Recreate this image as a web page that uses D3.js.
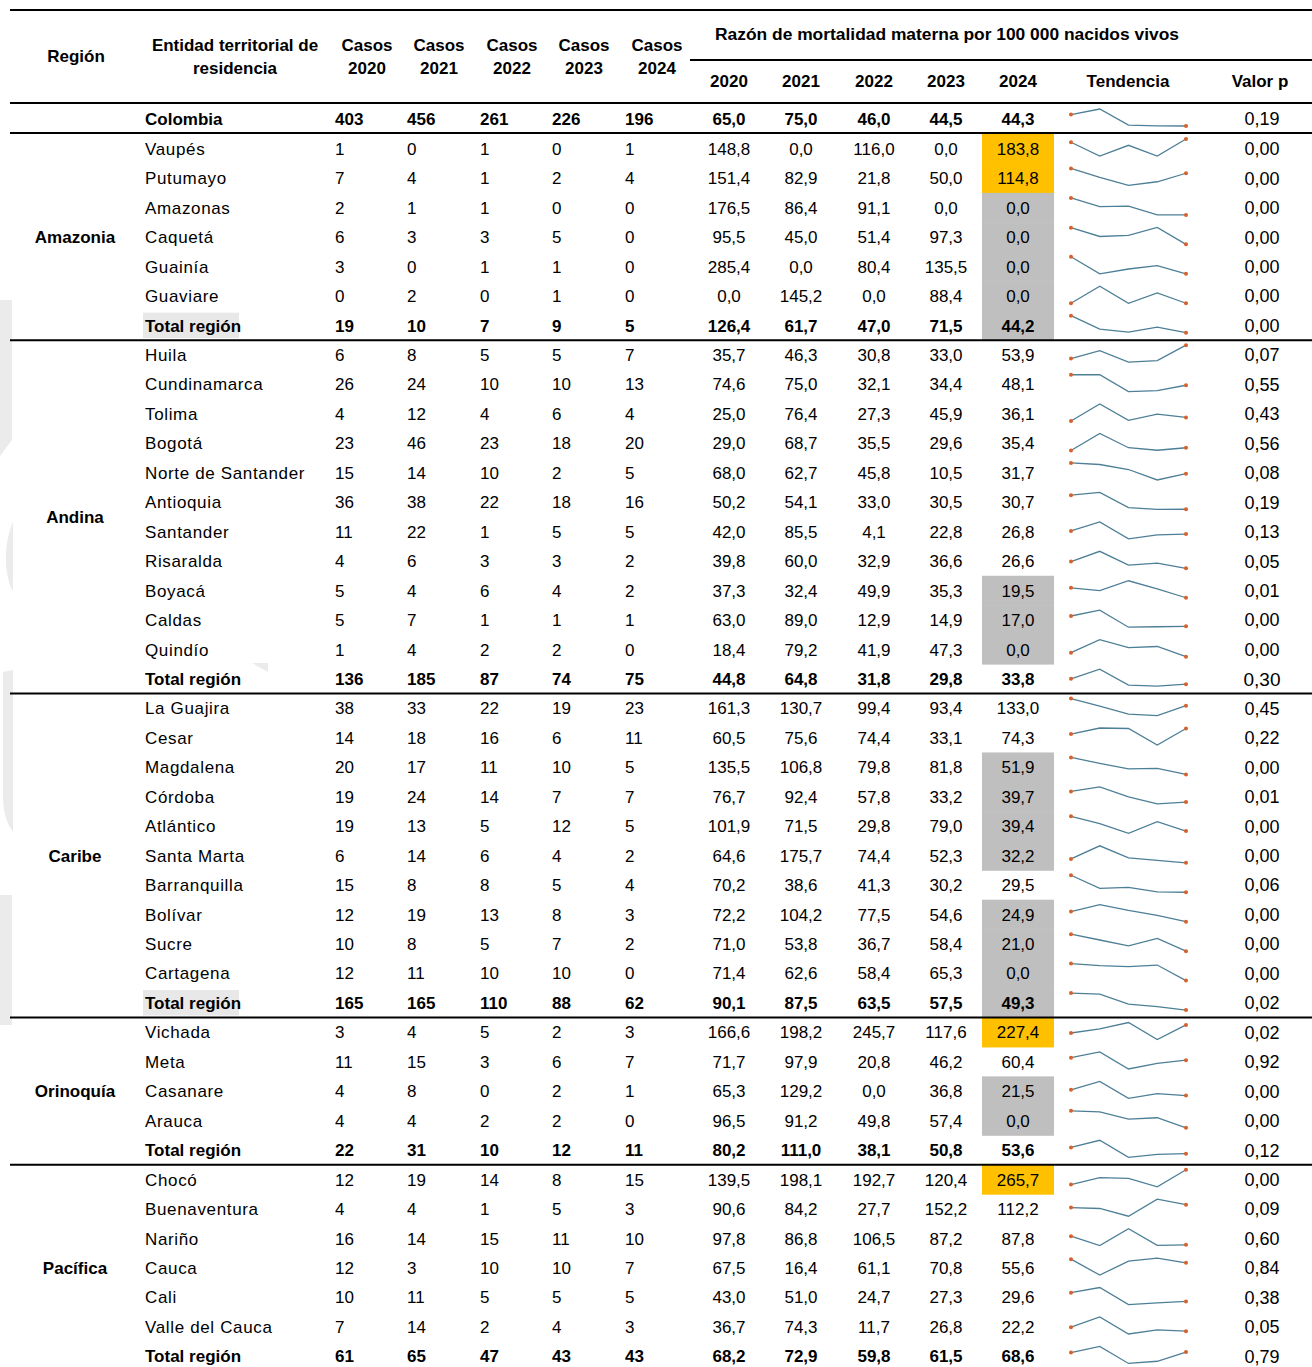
<!DOCTYPE html>
<meta charset="utf-8">
<style>
body { margin: 0; background: #fff; }
svg { display: block; font-family: "Liberation Sans", Arial, sans-serif; }
.b { font-weight: bold; }
</style>
<svg width="1312" height="1367"></svg>
<script src="https://cdn.jsdelivr.net/npm/d3@7"></script>
<script>

var anios = [2020, 2021, 2022, 2023, 2024];
var regiones = ["Amazonia", "Andina", "Caribe", "Orinoquía", "Pacífica"];
var filasPorRegion = [7, 12, 11, 5, 7];

var entidades = ["Colombia",
  "Vaupés", "Putumayo", "Amazonas", "Caquetá", "Guainía", "Guaviare", "Total región",
  "Huila", "Cundinamarca", "Tolima", "Bogotá", "Norte de Santander", "Antioquia", "Santander", "Risaralda", "Boyacá", "Caldas", "Quindío", "Total región",
  "La Guajira", "Cesar", "Magdalena", "Córdoba", "Atlántico", "Santa Marta", "Barranquilla", "Bolívar", "Sucre", "Cartagena", "Total región",
  "Vichada", "Meta", "Casanare", "Arauca", "Total región",
  "Chocó", "Buenaventura", "Nariño", "Cauca", "Cali", "Valle del Cauca", "Total región"];

var casos2020 = [403, 1,7,2,6,3,0,19, 6,26,4,23,15,36,11,4,5,5,1,136, 38,14,20,19,19,6,15,12,10,12,165, 3,11,4,4,22, 12,4,16,12,10,7,61];
var casos2021 = [456, 0,4,1,3,0,2,10, 8,24,12,46,14,38,22,6,4,7,4,185, 33,18,17,24,13,14,8,19,8,11,165, 4,15,8,4,31, 19,4,14,3,11,14,65];
var casos2022 = [261, 1,1,1,3,1,0,7, 5,10,4,23,10,22,1,3,6,1,2,87, 22,16,11,14,5,6,8,13,5,10,110, 5,3,0,2,10, 14,1,15,10,5,2,47];
var casos2023 = [226, 0,2,0,5,1,1,9, 5,10,6,18,2,18,5,3,4,1,2,74, 19,6,10,7,12,4,5,8,7,10,88, 2,6,2,2,12, 8,5,11,10,5,4,43];
var casos2024 = [196, 1,4,0,0,0,0,5, 7,13,4,20,5,16,5,2,2,1,0,75, 23,11,5,7,5,2,4,3,2,0,62, 3,7,1,0,11, 15,3,10,7,5,3,43];

var rmm2020 = [65.0, 148.8,151.4,176.5,95.5,285.4,0.0,126.4, 35.7,74.6,25.0,29.0,68.0,50.2,42.0,39.8,37.3,63.0,18.4,44.8, 161.3,60.5,135.5,76.7,101.9,64.6,70.2,72.2,71.0,71.4,90.1, 166.6,71.7,65.3,96.5,80.2, 139.5,90.6,97.8,67.5,43.0,36.7,68.2];
var rmm2021 = [75.0, 0.0,82.9,86.4,45.0,0.0,145.2,61.7, 46.3,75.0,76.4,68.7,62.7,54.1,85.5,60.0,32.4,89.0,79.2,64.8, 130.7,75.6,106.8,92.4,71.5,175.7,38.6,104.2,53.8,62.6,87.5, 198.2,97.9,129.2,91.2,111.0, 198.1,84.2,86.8,16.4,51.0,74.3,72.9];
var rmm2022 = [46.0, 116.0,21.8,91.1,51.4,80.4,0.0,47.0, 30.8,32.1,27.3,35.5,45.8,33.0,4.1,32.9,49.9,12.9,41.9,31.8, 99.4,74.4,79.8,57.8,29.8,74.4,41.3,77.5,36.7,58.4,63.5, 245.7,20.8,0.0,49.8,38.1, 192.7,27.7,106.5,61.1,24.7,11.7,59.8];
var rmm2023 = [44.5, 0.0,50.0,0.0,97.3,135.5,88.4,71.5, 33.0,34.4,45.9,29.6,10.5,30.5,22.8,36.6,35.3,14.9,47.3,29.8, 93.4,33.1,81.8,33.2,79.0,52.3,30.2,54.6,58.4,65.3,57.5, 117.6,46.2,36.8,57.4,50.8, 120.4,152.2,87.2,70.8,27.3,26.8,61.5];
var rmm2024 = [44.3, 183.8,114.8,0.0,0.0,0.0,0.0,44.2, 53.9,48.1,36.1,35.4,31.7,30.7,26.8,26.6,19.5,17.0,0.0,33.8, 133.0,74.3,51.9,39.7,39.4,32.2,29.5,24.9,21.0,0.0,49.3, 227.4,60.4,21.5,0.0,53.6, 265.7,112.2,87.8,55.6,29.6,22.2,68.6];

var valorP = ["0,19", "0,00","0,00","0,00","0,00","0,00","0,00","0,00",
  "0,07","0,55","0,43","0,56","0,08","0,19","0,13","0,05","0,01","0,00","0,00","0,30",
  "0,45","0,22","0,00","0,01","0,00","0,00","0,06","0,00","0,00","0,00","0,02",
  "0,02","0,92","0,00","0,00","0,12",
  "0,00","0,09","0,60","0,84","0,38","0,05","0,79"];

// "a" = naranja, "g" = gris
var destacado2024 = ["",
  "a","a","g","g","g","g","g",
  "","","","","","","","","g","g","g","",
  "","","g","g","g","g","","g","g","g","g",
  "a","","g","g","",
  "a","","","","","",""];

var svg = d3.select("svg"),
    width = +svg.attr("width");

var fmt = function(v) { return d3.format(".1f")(v).replace(".", ","); };
var casos = [casos2020, casos2021, casos2022, casos2023, casos2024];
var rmm = [rmm2020, rmm2021, rmm2022, rmm2023, rmm2024];

var left = 10,
    firstTop = 134,
    rowH = 29.45,
    fs = 17;

var casosX = [335, 407, 480, 552, 625];
var rmmX = [729, 801, 874, 946, 1018];
var pX = 1262;

// bits of a faint watermark showing in the left margin
var deco = svg.append("g").attr("fill", "#ebebeb");
deco.append("path").attr("d", "M0,300 L12,300 L12,440 L0,456 Z");
deco.append("path").attr("d", "M13,522 C5,540 2,570 13,592 Z");
deco.append("path").attr("d", "M13,670 L3,672 L3,800 Q4,820 13,832 Z");
deco.append("path").attr("d", "M0,895 L12,895 L12,1025 L0,1025 Z");
deco.append("path").attr("d", "M252,663 L268,663 L268,672 Z");

// row positions
var rowTop = function(i) { return i === 0 ? 104 : firstTop + (i - 1) * rowH; };
var rowMid = function(i) { return i === 0 ? 119 : rowTop(i) + rowH / 2; };

// highlighted 2024 cells
svg.append("g").selectAll("rect")
  .data(destacado2024.map(function(d, i) { return { c: d, i: i }; }).filter(function(d) { return d.c; }))
  .enter().append("rect")
  .attr("x", 982).attr("width", 72)
  .attr("y", function(d) { return rowTop(d.i); })
  .attr("height", rowH + 0.5)
  .attr("fill", function(d) { return d.c === "a" ? "#ffc000" : "#bfbfbf"; });

// light box behind a couple of "Total región" labels
[7, 30].forEach(function(i) {
  svg.append("rect").attr("x", 143).attr("y", rowTop(i) + 2).attr("width", 96).attr("height", rowH - 4)
    .attr("fill", "#e8e8e8");
});

// header
var head = svg.append("g").attr("class", "b").attr("font-size", fs).attr("text-anchor", "middle").attr("fill", "#000");
head.append("text").attr("x", 76).attr("y", 62).text("Región");
head.append("text").attr("x", 235).attr("y", 51).text("Entidad territorial de");
head.append("text").attr("x", 235).attr("y", 74).text("residencia");
anios.forEach(function(a, k) {
  head.append("text").attr("x", casosX[k] + 32).attr("y", 51).text("Casos");
  head.append("text").attr("x", casosX[k] + 32).attr("y", 74).text(a);
  head.append("text").attr("x", rmmX[k]).attr("y", 87).text(a);
});
head.append("text").attr("x", 947).attr("y", 40).attr("font-size", 17.4)
  .text("Razón de mortalidad materna por 100 000 nacidos vivos");
head.append("text").attr("x", 1128).attr("y", 87).text("Tendencia");
head.append("text").attr("x", 1260).attr("y", 87).text("Valor p");

// body rows
var rows = svg.append("g").attr("font-size", fs).attr("fill", "#000");
entidades.forEach(function(e, i) {
  var bold = i === 0 || e === "Total región";
  var g = rows.append("g").attr("class", bold ? "b" : null)
    .attr("transform", "translate(0," + rowMid(i) + ")");
  g.append("text").attr("x", 145).attr("dy", "0.36em")
    .attr("letter-spacing", bold ? null : 0.65)
    .text(e);
  casos.forEach(function(col, k) {
    g.append("text").attr("x", casosX[k]).attr("dy", "0.36em").text(col[i]);
  });
  rmm.forEach(function(col, k) {
    g.append("text").attr("x", rmmX[k]).attr("dy", "0.36em").attr("text-anchor", "middle").text(fmt(col[i]));
  });
  g.append("text").attr("x", pX).attr("dy", "0.36em").attr("text-anchor", "middle")
    .attr("font-weight", "normal")
    .attr("font-size", i === 19 ? 19 : 18)
    .text(valorP[i]);
});

// region labels, centred on their block
var start = 1;
regiones.forEach(function(r, k) {
  var n = filasPorRegion[k];
  var y0 = rowTop(start), y1 = rowTop(start + n);
  rows.append("text").attr("class", "b").attr("x", 75).attr("y", Math.min((y0 + y1) / 2, 1268))
    .attr("dy", "0.36em").attr("text-anchor", "middle").text(r);
  start += n;
});

// sparklines
var x = d3.scalePoint().domain(anios).range([1071, 1186]);
var spark = svg.append("g");
entidades.forEach(function(e, i) {
  var vals = rmm.map(function(col) { return col[i]; });
  var top = rowTop(i);
  var y = d3.scaleLinear().domain(d3.extent(vals)).range([top + 22, top + 5]);
  var line = d3.line().x(function(d, k) { return x(anios[k]); }).y(function(d) { return y(d); });
  spark.append("path").attr("d", line(vals))
    .attr("fill", "none").attr("stroke", "#4d7f96").attr("stroke-width", 1.3);
  [0, 4].forEach(function(k) {
    spark.append("circle").attr("cx", x(anios[k])).attr("cy", y(vals[k])).attr("r", 2)
      .attr("fill", "#d5622a");
  });
});

// rules
var rules = svg.append("g").attr("stroke", "#000");
[10, 103, 133].forEach(function(yy) {
  rules.append("line").attr("x1", left).attr("x2", width).attr("y1", yy).attr("y2", yy).attr("stroke-width", 2.2);
});
rules.append("line").attr("x1", 690).attr("x2", width).attr("y1", 60).attr("y2", 60).attr("stroke-width", 2);
var acc = 1;
filasPorRegion.slice(0, -1).forEach(function(n) {
  acc += n;
  var yy = rowTop(acc);
  rules.append("line").attr("x1", left).attr("x2", width).attr("y1", yy).attr("y2", yy).attr("stroke-width", 2);
});

</script>
